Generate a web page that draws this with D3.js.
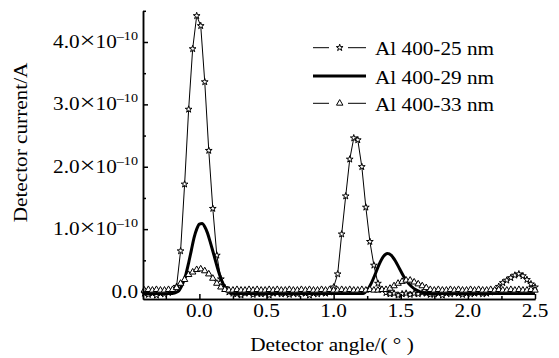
<!DOCTYPE html>
<html><head><meta charset="utf-8">
<script src="https://cdn.jsdelivr.net/npm/d3@7"></script>
<style>body{margin:0;background:#fff}</style>
</head><body>
<svg id="c" width="559" height="358"></svg>
<script>
// ---- data (current in units of 1e-10 A, angle in degrees) ----
const scanStart = -0.41, scanStep = 0.03, scanCount = 98;
const current25 = [
  -0.03,-0.05,-0.03,-0.06,-0.03,-0.04,-0.02,0.01,
  0.08,0.65,1.72,2.92,3.89,4.42,4.26,3.36,2.26,1.33,0.58,0.20,0.06,-0.01,
  -0.03,-0.04,-0.06,-0.03,-0.02,-0.05,-0.03,-0.04,-0.03,-0.06,-0.03,-0.02,-0.04,-0.03,-0.05,-0.03,-0.04,-0.02,-0.03,-0.06,-0.03,-0.04,-0.02,-0.03,-0.01,
  0.07,0.28,0.92,1.53,2.12,2.46,2.43,2.00,1.35,0.80,0.42,0.13,0.03,
  -0.02,-0.04,-0.03,-0.06,-0.04,-0.03,-0.05,-0.03,-0.04,-0.02,-0.03,-0.05,-0.04,-0.03,-0.06,-0.03,-0.04,-0.02,-0.03,-0.05,-0.03,-0.04,-0.03,-0.02,-0.04,-0.03,-0.01,
  0.02,0.08,0.14,0.18,0.22,0.26,0.28,0.25,0.19,0.12,0.07
];
const current33 = [
  0.02,0.03,0.02,0.03,0.02,0.02,0.03,
  0.03,
  0.06,0.13,0.19,0.27,0.31,0.35,0.36,0.33,0.28,0.21,0.13,0.07,0.03,0.02,
  0.02,0.03,0.02,0.02,0.03,0.02,0.03,0.02,0.02,0.03,0.02,0.03,0.02,0.02,0.03,0.02,0.02,0.03,0.02,0.03,
  0.02,0.02,0.03,0.02,0.03,0.02,0.02,0.03,0.02,0.03,0.02,0.02,0.03,0.02,0.03,0.02,0.02,0.03,
  0.03,0.05,0.09,0.13,0.16,0.18,0.18,0.15,0.12,0.09,0.06,0.03,
  0.02,0.03,0.02,0.02,0.03,0.02,0.03,0.02,0.02,0.03,0.02,0.03,0.02,0.02,0.03,0.02,0.03,0.02,0.02,0.03,0.02,0.03,0.02,0.02,0.03,0.02
];
const angle29 = [-0.42,-0.20,-0.16,-0.13,-0.10,-0.08,-0.06,-0.04,-0.02,0.00,0.02,0.04,0.06,0.08,0.10,0.12,0.14,0.16,0.18,0.20,0.23,0.26,
  1.22,1.25,1.28,1.31,1.34,1.37,1.40,1.43,1.46,1.49,1.52,1.55,1.58,1.61,1.64,1.68,2.50];
const current29 = [-0.03,-0.03,0.00,0.10,0.28,0.46,0.66,0.86,1.00,1.08,1.09,1.04,0.94,0.80,0.65,0.49,0.34,0.21,0.11,0.04,-0.02,-0.03,
  -0.03,0.02,0.13,0.28,0.44,0.56,0.61,0.58,0.49,0.37,0.25,0.15,0.08,0.03,0.00,-0.03,-0.03];
const xTickValues = [0,0.5,1.0,1.5,2.0,2.5];
const xTickLabels = ["0.0","0.5","1.0","1.5","2.0","2.5"];
const xMinorTicks = [-0.25,0.25,0.75,1.25,1.75,2.25];
const yTickValues = [0,1,2,3,4];
const yTickMantissa = ["0.0","1.0","2.0","3.0","4.0"];
const yMinorTicks = [0.5,1.5,2.5,3.5,4.5];
const legendLabels = ["Al 400-25 nm","Al 400-29 nm","Al 400-33 nm"];
const xTitle = "Detector angle/( ° )";
const yTitle = "Detector current/A";

// ---- drawing ----
const FONT = "'Liberation Serif','Times New Roman',serif";
const SX = 1.18;
const svg = d3.select("#c");
const x = d3.scaleLinear().domain([-0.42, 2.5]).range([143, 535]);
const y = d3.scaleLinear().domain([-0.12, 4.5]).range([299, 10.8]);

const scanAngles = d3.range(scanCount).map(i => +(scanStart + i*scanStep).toFixed(2));
const d25 = scanAngles.map((a,i) => [a, current25[i]]);
const d33 = scanAngles.map((a,i) => [a, current33[i]]);
const d29 = angle29.map((a,i) => [a, current29[i]]);

const line = d3.line().x(d => x(d[0])).y(d => y(d[1]));
const smooth = d3.line().x(d => x(d[0])).y(d => y(d[1])).curve(d3.curveMonotoneX);

const star = d3.symbol().type(d3.symbolStar).size(14);
const tri = d3.symbol().type(d3.symbolTriangle).size(18);

// series 25 nm
svg.append("path").attr("d", line(d25)).attr("fill","none").attr("stroke","#000").attr("stroke-width",1);
svg.append("g").selectAll("path").data(d25).join("path")
  .attr("d", star).attr("transform", d => `translate(${x(d[0])},${y(d[1])})`)
  .attr("fill","#fff").attr("stroke","#000").attr("stroke-width",1);
// series 29 nm
svg.append("path").attr("d", smooth(d29)).attr("fill","none").attr("stroke","#000").attr("stroke-width",3);
// series 33 nm
svg.append("path").attr("d", line(d33)).attr("fill","none").attr("stroke","#000").attr("stroke-width",1);
svg.append("g").selectAll("path").data(d33).join("path")
  .attr("d", tri).attr("transform", d => `translate(${x(d[0])},${y(d[1])})`)
  .attr("fill","#fff").attr("stroke","#000").attr("stroke-width",1);

// axes
function styleAxis(g){ g.selectAll("path,line").attr("stroke","#000").attr("stroke-width",1.5); g.selectAll("text").remove(); }
svg.append("g").attr("transform","translate(143,0)")
  .call(d3.axisLeft(y).tickValues(yTickValues).tickSize(-5).tickSizeOuter(0).tickFormat("")).call(styleAxis);
svg.append("g").attr("transform","translate(143,0)")
  .call(d3.axisLeft(y).tickValues(yMinorTicks).tickSize(-3).tickSizeOuter(0).tickFormat("")).call(styleAxis);
svg.append("g").attr("transform","translate(0,299)")
  .call(d3.axisBottom(x).tickValues(xTickValues).tickSize(-5).tickSizeOuter(0).tickFormat("")).call(styleAxis);
svg.append("g").attr("transform","translate(0,299)")
  .call(d3.axisBottom(x).tickValues(xMinorTicks).tickSize(-3).tickSizeOuter(0).tickFormat("")).call(styleAxis);

function label(px, py, rot, anchor, parts){
  const g = svg.append("g").attr("transform", `translate(${px},${py}) rotate(${rot}) scale(${SX},1)`);
  const t = g.append("text").attr("text-anchor", anchor).attr("font-family", FONT).attr("font-size", 18).attr("fill","#000");
  parts.forEach(p => {
    const ts = t.append("tspan").text(p.t);
    if (p.size) ts.attr("font-size", p.size);
    if (p.dy) ts.attr("dy", p.dy);
    if (p.dx) ts.attr("dx", p.dx);
  });
}
xTickValues.forEach((v,i) => label(x(v), 317, 0, "middle", [{t:xTickLabels[i]}]));
yTickValues.forEach((v,i) => {
  const parts = v === 0 ? [{t:yTickMantissa[i]}]
    : [{t:yTickMantissa[i]},{t:"×",size:24},{t:"10"},{t:"–10",size:12,dy:-8}];
  label(138, y(v)+6, 0, "end", parts);
});
label(332, 351, 0, "middle", [{t:xTitle}]);
label(27, 142.5, -90, "middle", [{t:yTitle}]);

// legend
const legY = [47.7, 76, 103.3];
// row 1
svg.append("line").attr("x1",313).attr("x2",329).attr("y1",legY[0]).attr("y2",legY[0]).attr("stroke","#000");
svg.append("line").attr("x1",348).attr("x2",366).attr("y1",legY[0]).attr("y2",legY[0]).attr("stroke","#000");
svg.append("path").attr("d", star).attr("transform",`translate(339.7,${legY[0]})`).attr("fill","#fff").attr("stroke","#000");
// row 2
svg.append("line").attr("x1",313).attr("x2",366).attr("y1",legY[1]).attr("y2",legY[1]).attr("stroke","#000").attr("stroke-width",3);
// row 3
svg.append("line").attr("x1",313).attr("x2",329).attr("y1",legY[2]).attr("y2",legY[2]).attr("stroke","#000");
svg.append("line").attr("x1",348).attr("x2",366).attr("y1",legY[2]).attr("y2",legY[2]).attr("stroke","#000");
svg.append("path").attr("d", tri).attr("transform",`translate(339.7,${legY[2]})`).attr("fill","#fff").attr("stroke","#000");
legendLabels.forEach((s,i) => label(375, legY[i]+7.5, 0, "start", [{t:s}]));
</script>
</body></html>
